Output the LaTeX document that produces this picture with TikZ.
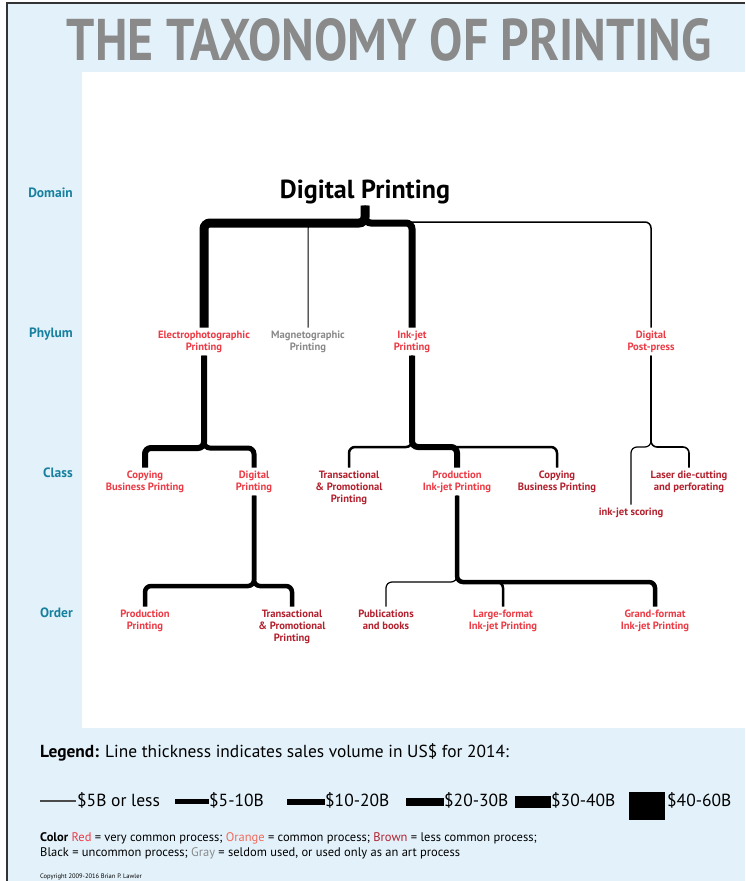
\documentclass[tikz,border=0pt]{standalone}
\usepackage{fontspec}
\setmainfont{PT Sans}
\usetikzlibrary{calc}
\definecolor{bgblue}{HTML}{E3F2FA}
\definecolor{vred}{HTML}{EC3B45}
\definecolor{brn}{HTML}{B3212E}
\definecolor{org}{HTML}{F26A5C}
\definecolor{gry}{HTML}{8A8A8A}
\definecolor{rankcol}{HTML}{18809F}
\tikzset{
  lbl/.style={font=\bfseries\fontsize{10.6}{12.4}\selectfont, align=center, inner sep=0pt, outer sep=3pt, anchor=north},
  rank/.style={font=\bfseries\fontsize{13.5}{15}\selectfont, text=rankcol, anchor=base east, inner sep=0pt},
  conn/.style={rounded corners=6pt, line cap=butt},
  legtext/.style={font=\fontsize{17.5}{20}\selectfont, anchor=base west, inner sep=0pt},
  note/.style={font=\fontsize{12.5}{14}\selectfont, anchor=base west, inner sep=0pt}
}
\begin{document}
\begin{tikzpicture}[x=1pt,y=-1pt]
\useasboundingbox (0,0) rectangle (745,881);
\fill[bgblue] (7,3) rectangle (745,881);
\draw[line width=1.5pt, black!80] (7,881) -- (7,3) -- (745,3);
\fill[white] (82,72) rectangle (745,728);

% title
\node[anchor=base, inner sep=0pt, text=gry] (title) at (389.5,60) {\resizebox{645pt}{42pt}{\bfseries THE TAXONOMY OF PRINTING}};

% ranks
\node[rank] (rdom) at (73,197) {Domain};
\node[rank] (rphy) at (73,337) {Phylum};
\node[rank] (rcla) at (73,477) {Class};
\node[rank] (rord) at (73,617) {Order};

% root
\node[anchor=base, inner sep=0pt, outer sep=2pt] (root) at (365,198) {\resizebox{170pt}{!}{\bfseries Digital Printing}};

% phylum
\node[lbl, text=vred] (ep) at (204,327.5) {Electrophotographic\\Printing};
\node[lbl, text=gry] (mg) at (308,327.5) {Magnetographic\\Printing};
\node[lbl, text=vred] (ij) at (412,327.5) {Ink-jet\\Printing};
\node[lbl, text=vred] (pp) at (651,327.5) {Digital\\Post-press};

% class
\node[lbl, text=vred] (cbp1) at (145,467.5) {Copying\\Business Printing};
\node[lbl, text=vred] (dpc) at (254,467.5) {Digital\\Printing};
\node[lbl, text=brn] (tpc) at (349,467.5) {Transactional\\\& Promotional\\Printing};
\node[lbl, text=vred] (pij) at (457,467.5) {Production\\Ink-jet Printing};
\node[lbl, text=brn] (cbp2) at (557,467.5) {Copying\\Business Printing};
\node[lbl, text=brn] (ldc) at (689,467.5) {Laser die-cutting\\and perforating};
\node[lbl, text=brn] (ijs) at (631,504.5) {ink-jet scoring};

% order
\node[lbl, text=vred] (prp) at (145,606.5) {Production\\Printing};
\node[lbl, text=brn] (tpo) at (292,606.5) {Transactional\\\& Promotional\\Printing};
\node[lbl, text=brn] (pub) at (386,606.5) {Publications\\and books};
\node[lbl, text=vred] (lf) at (503,606.5) {Large-format\\Ink-jet Printing};
\node[lbl, text=vred] (gf) at (655,606.5) {Grand-format\\Ink-jet Printing};

% junctions
\coordinate (j0) at (365,223);
\coordinate (j0p) at (365,222);
\coordinate (j1) at (204,448);
\coordinate (j2) at (412,447);
\coordinate (j3) at (651,447);
\coordinate (j4) at (253,586);
\coordinate (j5) at (457,582);

% root branches
\draw[conn, line width=1.5pt] (root.south) -- (root.south |- j0p) -| (pp.north);
\draw[conn, line width=1pt] (root.south) -- (root.south |- j0) -| (mg.north);
\draw[conn, line width=7pt] (root.south) -- (root.south |- j0) -| (ij.north);
\draw[conn, line width=9pt] (root.south) -- (root.south |- j0) -| (ep.north);

% electrophotographic
\draw[conn, line width=5pt] (ep.south) -- (ep.south |- j1) -| (dpc.north);
\draw[conn, line width=6pt] (ep.south) -- (ep.south |- j1) -| (cbp1.north);

% ink-jet
\draw[conn, line width=2.5pt] (ij.south) -- (ij.south |- j2) -| (tpc.north);
\draw[conn, line width=2.5pt] (ij.south) -- (ij.south |- j2) -| (cbp2.north);
\draw[conn, line width=6pt] (ij.south) -- (ij.south |- j2) -| (pij.north);

% post-press
\draw[conn, line width=1.2pt] (pp.south) -- (pp.south |- j3) -| (ijs.north);
\draw[conn, line width=1.6pt] (pp.south) -- (pp.south |- j3) -| (ldc.north);

% digital printing class
\draw[conn, line width=4.5pt] (dpc.south) -- (dpc.south |- j4) -| (prp.north);
\draw[conn, line width=4.5pt] (dpc.south) -- (dpc.south |- j4) -| (tpo.north);

% production ink-jet
\draw[conn, line width=1.2pt] (pij.south) -- (pij.south |- j5) -| (pub.north);
\draw[conn, line width=2.5pt] (pij.south) -- (pij.south |- j5) -| (lf.north);
\draw[conn, line width=4.5pt] (pij.south) -- (pij.south |- j5) -| (gf.north);

% legend
\node[legtext, font=\fontsize{17.4}{19}\selectfont] (leg) at (40,757) {{\bfseries Legend:} Line thickness indicates sales volume in US\$ for 2014:};
\node[legtext] (l1) at (77,806) {\$5B or less};
\node[legtext] (l2) at (209,806) {\$5-10B};
\node[legtext] (l3) at (325,806) {\$10-20B};
\node[legtext] (l4) at (444,806) {\$20-30B};
\node[legtext] (l5) at (551,806) {\$30-40B};
\node[legtext] (l6) at (667,806) {\$40-60B};
\draw[line width=1.2pt, black!70] (40,801) -- (76,801);
\draw[line width=4.5pt] (175,801.5) -- (209,801.5);
\draw[line width=5.5pt] (287,802) -- (325,802);
\draw[line width=8pt] (406,802) -- (444,802);
\draw[line width=12pt] (515,802) -- (551,802);
\fill (629,792) rectangle (665,820);

\node[note] (c1) at (40,841) {{\bfseries Color} {\color{vred}Red} = very common process; {\color{org}Orange} = common process; {\color{brn}Brown} = less common process;};
\node[note] (c2) at (40,856) {Black = uncommon process; {\color{gry}Gray} = seldom used, or used only as an art process};
\node[anchor=base west, inner sep=0pt, font=\fontsize{6.5}{7}\selectfont] (cp) at (40,878) {Copyright 2009-2016 Brian P. Lawler};
\end{tikzpicture}
\end{document}
